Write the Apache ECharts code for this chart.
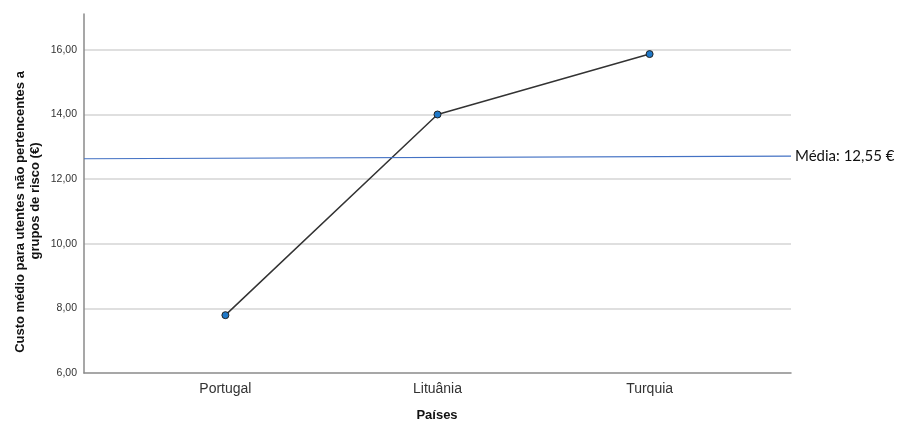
<!DOCTYPE html>
<html>
<head>
<meta charset="utf-8">
<script src="https://cdn.jsdelivr.net/npm/echarts@6/dist/echarts.min.js"></script>
<style>html,body{margin:0;padding:0;background:#fff}#c{width:900px;height:423px}</style>
</head>
<body>
<div id="c"></div>
<script>
const categories = ['Portugal', 'Lituânia', 'Turquia'];
const values = [7.79, 14.0, 15.87];
const yTicks = [6, 8, 10, 12, 14, 16];
const meanLabel = 'Média: 12,55 €';
const meanLineStart = 12.63;
const meanLineEnd = 12.71;
const yAxisTitle = ['Custo médio para utentes não pertencentes a', 'grupos de risco (€)'];
const xAxisTitle = 'Países';

const xMin = -2 / 3, xMax = categories.length - 1 + 2 / 3;
const chart = echarts.init(document.getElementById('c'));
chart.setOption({
  animation: false,
  grid: { left: 84, right: 109, top: 14, bottom: 50 },
  xAxis: {
    type: 'value', min: xMin, max: xMax,
    axisLine: { show: true, onZero: false, lineStyle: { color: '#8a8a8a', width: 1.5 } },
    axisTick: { show: false },
    splitLine: { show: false },
    axisLabel: {
      customValues: categories.map((c, i) => i),
      formatter: v => categories[Math.round(v)] || '',
      color: '#333', fontSize: 14, fontFamily: 'Liberation Sans, Arial', margin: 9
    }
  },
  yAxis: {
    type: 'value', min: 6, max: 17.11, interval: 2,
    axisLine: { show: true, onZero: false, lineStyle: { color: '#8a8a8a', width: 1.5 } },
    axisTick: { show: false },
    splitLine: { show: true, showMaxLine: false, showMinLine: false, lineStyle: { color: '#d4d4d4', width: 1.5 } },
    axisLabel: {
      showMaxLabel: false,
      formatter: v => yTicks.includes(v) ? v.toFixed(2).replace('.', ',') : '',
      color: '#333', fontSize: 10.5, fontFamily: 'Liberation Sans, Arial', margin: 7
    }
  },
  series: [{
    type: 'line',
    data: categories.map((c, i) => [i, values[i]]),
    symbol: 'circle', symbolSize: 7,
    itemStyle: { color: '#1f78c8', borderColor: '#222', borderWidth: 1 },
    lineStyle: { color: '#333', width: 1.5 },
    markLine: {
      silent: true, symbol: 'none',
      lineStyle: { color: '#4472c4', width: 1.2, type: 'solid' },
      label: { show: true, position: 'end', formatter: meanLabel, color: '#111', fontSize: 15, fontFamily: 'Lato, Liberation Sans', distance: 4 },
      data: [[{ coord: [xMin, meanLineStart] }, { coord: [xMax, meanLineEnd] }]]
    }
  }],
  graphic: [
    { type: 'text', x: 20, y: 212, rotation: Math.PI / 2,
      style: { text: yAxisTitle[0], font: 'bold 13px "Liberation Sans", Arial', fill: '#111', align: 'center', verticalAlign: 'middle' } },
    { type: 'text', x: 35, y: 201, rotation: Math.PI / 2,
      style: { text: yAxisTitle[1], font: 'bold 13px "Liberation Sans", Arial', fill: '#111', align: 'center', verticalAlign: 'middle' } },
    { type: 'text', x: 437, y: 415,
      style: { text: xAxisTitle, font: 'bold 13px "Liberation Sans", Arial', fill: '#111', align: 'center', verticalAlign: 'middle' } }
  ]
});
</script>
</body>
</html>
